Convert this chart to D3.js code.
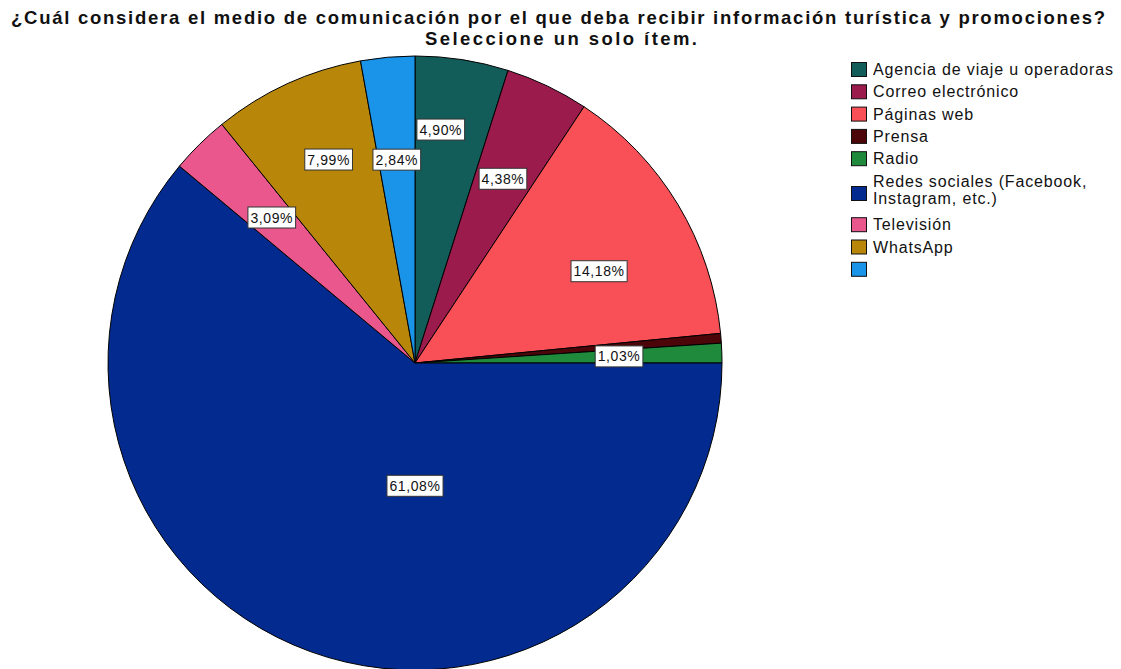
<!DOCTYPE html>
<html>
<head>
<meta charset="utf-8">
<script src="https://cdn.jsdelivr.net/npm/d3@7"></script>
<style>
  html, body { margin: 0; padding: 0; background: #ffffff; }
  svg { display: block; }
  text { font-family: "Liberation Sans", Arial, sans-serif; }
</style>
</head>
<body>
<svg id="chart" width="1121" height="669"></svg>
<script>
// Survey answers (share of respondents, %)
const categories = [
  "Agencia de viaje u operadoras",
  "Correo electrónico",
  "Páginas web",
  "Prensa",
  "Radio",
  "Redes sociales (Facebook, Instagram, etc.)",
  "Televisión",
  "WhatsApp",
  ""
];
const percentages = [4.90, 4.38, 14.18, 0.51, 1.03, 61.08, 3.09, 7.99, 2.84];
const showLabel = [true, true, true, false, true, true, true, true, true];
const legendLines = [
  ["Agencia de viaje u operadoras"],
  ["Correo electrónico"],
  ["Páginas web"],
  ["Prensa"],
  ["Radio"],
  ["Redes sociales (Facebook,", "Instagram, etc.)"],
  ["Televisión"],
  ["WhatsApp"],
  [""]
];
const titleLines = [
  "¿Cuál considera el medio de comunicación por el que deba recibir información turística y promociones?",
  "Seleccione un solo ítem."
];

const colors = ["#125c5a", "#9c1b4d", "#f94f56", "#4c0609", "#1f8a3c",
                "#032b8f", "#e9578c", "#b8870a", "#1a94e8"];

// label placement: radius fraction and optional angle (deg, clockwise from top)
const labelPlacement = {
  0: { r: 0.765, a: 6.3 },
  2: { r: 0.67, a: 63.5 },
  5: { r: 0.40, a: 180 },
  7: { r: 0.72, a: -23 }
};

const svg = d3.select("#chart");
const cx = 415, cy = 363, R = 307;

const fmt = v => v.toFixed(2).replace(".", ",") + "%";

const pie = d3.pie().sort(null).value(d => d.value);
const arcs = pie(percentages.map((v, i) => ({ value: v, i })));
const arc = d3.arc().innerRadius(0).outerRadius(R);

const g = svg.append("g").attr("transform", `translate(${cx},${cy})`);

g.selectAll("path.slice")
  .data(arcs)
  .join("path")
  .attr("class", "slice")
  .attr("d", arc)
  .attr("fill", d => colors[d.data.i])
  .attr("stroke", "#000")
  .attr("stroke-width", 1)
  .attr("stroke-linejoin", "round");

// value labels
const labels = g.selectAll("g.lbl")
  .data(arcs.filter(d => showLabel[d.data.i]))
  .join("g")
  .attr("class", "lbl")
  .attr("transform", d => {
    const p = labelPlacement[d.data.i] || {};
    const ang = p.a !== undefined ? p.a * Math.PI / 180 : (d.startAngle + d.endAngle) / 2;
    const rr = (p.r !== undefined ? p.r : 0.665) * R;
    return `translate(${rr * Math.sin(ang)},${-rr * Math.cos(ang)})`;
  });

labels.append("text")
  .attr("text-anchor", "middle")
  .attr("y", 5)
  .attr("font-size", 14)
  .attr("letter-spacing", 0.6)
  .attr("fill", "#111")
  .text(d => fmt(d.data.value));

labels.each(function () {
  const t = d3.select(this).select("text");
  const bb = t.node().getBBox();
  d3.select(this).insert("rect", "text")
    .attr("x", bb.x - 2.5)
    .attr("y", -10.5)
    .attr("width", bb.width + 5)
    .attr("height", 21)
    .attr("fill", "#fff")
    .attr("stroke", "#333")
    .attr("stroke-width", 1);
});

// title
const titleWidths = [1094, 272];
svg.append("g").selectAll("text")
  .data(titleLines)
  .join("text")
  .attr("x", (d, i) => i === 0 ? 558 : 561)
  .attr("y", (d, i) => 24 + i * 21)
  .attr("text-anchor", "middle")
  .attr("font-size", 18.5)
  .attr("font-weight", "bold")
  .attr("fill", "#111")
  .attr("textLength", (d, i) => titleWidths[i])
  .attr("lengthAdjust", "spacing")
  .text(d => d);

// legend
const legend = svg.append("g").attr("transform", "translate(851,62)");
const singleRow = 22.3, doubleRow = 43.7, lineGap = 17;
let yCursor = 0;
legendLines.forEach((lines, i) => {
  const rowH = lines.length > 1 ? doubleRow : singleRow;
  const item = legend.append("g").attr("transform", `translate(0,${yCursor})`);
  const swY = lines.length > 1 ? 12.5 : 0;
  item.append("rect")
    .attr("x", 0.5).attr("y", swY + 0.5)
    .attr("width", 15).attr("height", 14)
    .attr("fill", colors[i])
    .attr("stroke", "#111")
    .attr("stroke-width", 1);
  lines.forEach((ln, k) => {
    item.append("text")
      .attr("x", 22)
      .attr("y", 13 + k * lineGap)
      .attr("font-size", 16)
      .attr("letter-spacing", 0.85)
      .attr("fill", "#111")
      .text(ln);
  });
  yCursor += rowH;
});
</script>
</body>
</html>
